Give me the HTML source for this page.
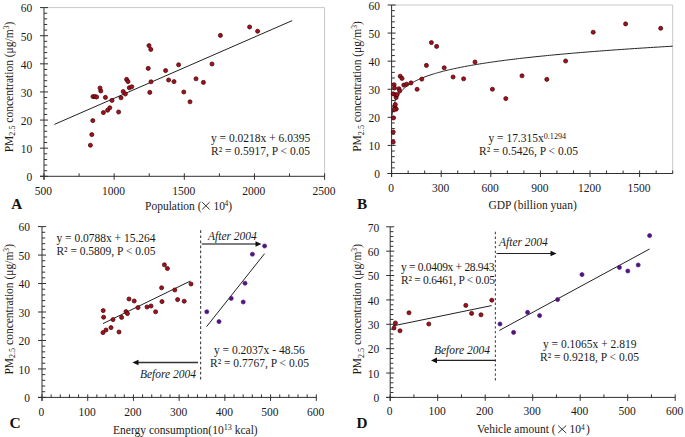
<!DOCTYPE html><html><head><meta charset="utf-8"><style>html,body{margin:0;padding:0;background:#fff;}svg{display:block;font-family:"Liberation Serif",serif;}</style></head><body>
<svg width="685" height="437" viewBox="0 0 685 437">
<rect width="685" height="437" fill="#fff"/>
<line x1="44.00" y1="7.60" x2="324.60" y2="7.60" stroke="#c8c8c8" stroke-width="1" />
<line x1="324.60" y1="7.60" x2="324.60" y2="176.30" stroke="#c8c8c8" stroke-width="1" />
<line x1="44.00" y1="7.60" x2="44.00" y2="179.80" stroke="#303030" stroke-width="1" />
<line x1="40.00" y1="176.30" x2="324.60" y2="176.30" stroke="#303030" stroke-width="1" />
<line x1="40.00" y1="176.30" x2="48.00" y2="176.30" stroke="#303030" stroke-width="1" />
<text transform="translate(32.20,181.10) scale(0.958,1)" text-anchor="end" font-size="12" font-weight="normal" font-style="normal" fill="#1a1a1a" >0</text>
<line x1="44.00" y1="170.68" x2="47.20" y2="170.68" stroke="#303030" stroke-width="1" />
<line x1="44.00" y1="165.05" x2="47.20" y2="165.05" stroke="#303030" stroke-width="1" />
<line x1="44.00" y1="159.43" x2="47.20" y2="159.43" stroke="#303030" stroke-width="1" />
<line x1="44.00" y1="153.81" x2="47.20" y2="153.81" stroke="#303030" stroke-width="1" />
<line x1="40.00" y1="148.18" x2="48.00" y2="148.18" stroke="#303030" stroke-width="1" />
<text transform="translate(32.20,152.98) scale(0.958,1)" text-anchor="end" font-size="12" font-weight="normal" font-style="normal" fill="#1a1a1a" >10</text>
<line x1="44.00" y1="142.56" x2="47.20" y2="142.56" stroke="#303030" stroke-width="1" />
<line x1="44.00" y1="136.94" x2="47.20" y2="136.94" stroke="#303030" stroke-width="1" />
<line x1="44.00" y1="131.31" x2="47.20" y2="131.31" stroke="#303030" stroke-width="1" />
<line x1="44.00" y1="125.69" x2="47.20" y2="125.69" stroke="#303030" stroke-width="1" />
<line x1="40.00" y1="120.07" x2="48.00" y2="120.07" stroke="#303030" stroke-width="1" />
<text transform="translate(32.20,124.87) scale(0.958,1)" text-anchor="end" font-size="12" font-weight="normal" font-style="normal" fill="#1a1a1a" >20</text>
<line x1="44.00" y1="114.44" x2="47.20" y2="114.44" stroke="#303030" stroke-width="1" />
<line x1="44.00" y1="108.82" x2="47.20" y2="108.82" stroke="#303030" stroke-width="1" />
<line x1="44.00" y1="103.20" x2="47.20" y2="103.20" stroke="#303030" stroke-width="1" />
<line x1="44.00" y1="97.57" x2="47.20" y2="97.57" stroke="#303030" stroke-width="1" />
<line x1="40.00" y1="91.95" x2="48.00" y2="91.95" stroke="#303030" stroke-width="1" />
<text transform="translate(32.20,96.75) scale(0.958,1)" text-anchor="end" font-size="12" font-weight="normal" font-style="normal" fill="#1a1a1a" >30</text>
<line x1="44.00" y1="86.33" x2="47.20" y2="86.33" stroke="#303030" stroke-width="1" />
<line x1="44.00" y1="80.70" x2="47.20" y2="80.70" stroke="#303030" stroke-width="1" />
<line x1="44.00" y1="75.08" x2="47.20" y2="75.08" stroke="#303030" stroke-width="1" />
<line x1="44.00" y1="69.46" x2="47.20" y2="69.46" stroke="#303030" stroke-width="1" />
<line x1="40.00" y1="63.83" x2="48.00" y2="63.83" stroke="#303030" stroke-width="1" />
<text transform="translate(32.20,68.63) scale(0.958,1)" text-anchor="end" font-size="12" font-weight="normal" font-style="normal" fill="#1a1a1a" >40</text>
<line x1="44.00" y1="58.21" x2="47.20" y2="58.21" stroke="#303030" stroke-width="1" />
<line x1="44.00" y1="52.59" x2="47.20" y2="52.59" stroke="#303030" stroke-width="1" />
<line x1="44.00" y1="46.96" x2="47.20" y2="46.96" stroke="#303030" stroke-width="1" />
<line x1="44.00" y1="41.34" x2="47.20" y2="41.34" stroke="#303030" stroke-width="1" />
<line x1="40.00" y1="35.72" x2="48.00" y2="35.72" stroke="#303030" stroke-width="1" />
<text transform="translate(32.20,40.52) scale(0.958,1)" text-anchor="end" font-size="12" font-weight="normal" font-style="normal" fill="#1a1a1a" >50</text>
<line x1="44.00" y1="30.09" x2="47.20" y2="30.09" stroke="#303030" stroke-width="1" />
<line x1="44.00" y1="24.47" x2="47.20" y2="24.47" stroke="#303030" stroke-width="1" />
<line x1="44.00" y1="18.85" x2="47.20" y2="18.85" stroke="#303030" stroke-width="1" />
<line x1="44.00" y1="13.22" x2="47.20" y2="13.22" stroke="#303030" stroke-width="1" />
<line x1="40.00" y1="7.60" x2="48.00" y2="7.60" stroke="#303030" stroke-width="1" />
<text transform="translate(32.20,12.40) scale(0.958,1)" text-anchor="end" font-size="12" font-weight="normal" font-style="normal" fill="#1a1a1a" >60</text>
<line x1="44.00" y1="173.30" x2="44.00" y2="179.80" stroke="#303030" stroke-width="1" />
<text transform="translate(43.40,194.90) scale(0.958,1)" text-anchor="middle" font-size="12" font-weight="normal" font-style="normal" fill="#1a1a1a" >500</text>
<line x1="79.08" y1="176.30" x2="79.08" y2="173.30" stroke="#303030" stroke-width="1" />
<line x1="114.15" y1="173.30" x2="114.15" y2="179.80" stroke="#303030" stroke-width="1" />
<text transform="translate(113.55,194.90) scale(0.958,1)" text-anchor="middle" font-size="12" font-weight="normal" font-style="normal" fill="#1a1a1a" >1000</text>
<line x1="149.23" y1="176.30" x2="149.23" y2="173.30" stroke="#303030" stroke-width="1" />
<line x1="184.30" y1="173.30" x2="184.30" y2="179.80" stroke="#303030" stroke-width="1" />
<text transform="translate(183.70,194.90) scale(0.958,1)" text-anchor="middle" font-size="12" font-weight="normal" font-style="normal" fill="#1a1a1a" >1500</text>
<line x1="219.38" y1="176.30" x2="219.38" y2="173.30" stroke="#303030" stroke-width="1" />
<line x1="254.45" y1="173.30" x2="254.45" y2="179.80" stroke="#303030" stroke-width="1" />
<text transform="translate(253.85,194.90) scale(0.958,1)" text-anchor="middle" font-size="12" font-weight="normal" font-style="normal" fill="#1a1a1a" >2000</text>
<line x1="289.52" y1="176.30" x2="289.52" y2="173.30" stroke="#303030" stroke-width="1" />
<line x1="324.60" y1="173.30" x2="324.60" y2="179.80" stroke="#303030" stroke-width="1" />
<text transform="translate(324.00,194.90) scale(0.958,1)" text-anchor="middle" font-size="12" font-weight="normal" font-style="normal" fill="#1a1a1a" >2500</text>
<text transform="translate(11.30,209.20) scale(1.0,1)" text-anchor="start" font-size="15.2" font-weight="bold" font-style="normal" fill="#111" >A</text>
<text transform="translate(145.00,210.20) scale(0.958,1)" text-anchor="start" font-size="12" font-weight="normal" font-style="normal" fill="#1a1a1a" >Population (</text>
<path d="M202.2,202.2 L209.6,209.4 M209.6,202.2 L202.2,209.4" stroke="#1a1a1a" stroke-width="0.9" fill="none"/>
<text transform="translate(213.60,210.20) scale(0.958,1)" text-anchor="start" font-size="12" font-weight="normal" font-style="normal" fill="#1a1a1a" >10</text>
<text transform="translate(224.40,206.20) scale(1.0,1)" text-anchor="start" font-size="7.5" font-weight="normal" font-style="normal" fill="#1a1a1a" >4</text>
<text transform="translate(228.20,210.20) scale(0.958,1)" text-anchor="start" font-size="12" font-weight="normal" font-style="normal" fill="#1a1a1a" >)</text>
<text transform="translate(12.80,87.00) rotate(-90) scale(0.958,1)" text-anchor="middle" font-size="12" fill="#1a1a1a">PM<tspan font-size="8.5" dy="2.5">2.5</tspan><tspan dy="-2.5"> concentration (μg/m</tspan><tspan font-size="8" dy="-4">3</tspan><tspan dy="4">)</tspan></text>
<line x1="54.40" y1="124.40" x2="292.20" y2="20.60" stroke="#222" stroke-width="1" />
<circle cx="90.40" cy="145.20" r="2.05" fill="#a50f1c" stroke="#3a0404" stroke-width="0.7"/>
<circle cx="91.80" cy="134.60" r="2.05" fill="#a50f1c" stroke="#3a0404" stroke-width="0.7"/>
<circle cx="92.80" cy="120.60" r="2.05" fill="#a50f1c" stroke="#3a0404" stroke-width="0.7"/>
<circle cx="103.40" cy="112.60" r="2.05" fill="#a50f1c" stroke="#3a0404" stroke-width="0.7"/>
<circle cx="107.60" cy="110.20" r="2.05" fill="#a50f1c" stroke="#3a0404" stroke-width="0.7"/>
<circle cx="109.80" cy="107.80" r="2.05" fill="#a50f1c" stroke="#3a0404" stroke-width="0.7"/>
<circle cx="118.60" cy="112.00" r="2.05" fill="#a50f1c" stroke="#3a0404" stroke-width="0.7"/>
<circle cx="112.00" cy="100.40" r="2.05" fill="#a50f1c" stroke="#3a0404" stroke-width="0.7"/>
<circle cx="105.40" cy="97.40" r="2.05" fill="#a50f1c" stroke="#3a0404" stroke-width="0.7"/>
<circle cx="93.00" cy="96.60" r="2.05" fill="#a50f1c" stroke="#3a0404" stroke-width="0.7"/>
<circle cx="95.00" cy="96.60" r="2.05" fill="#a50f1c" stroke="#3a0404" stroke-width="0.7"/>
<circle cx="96.60" cy="97.00" r="2.05" fill="#a50f1c" stroke="#3a0404" stroke-width="0.7"/>
<circle cx="121.00" cy="97.80" r="2.05" fill="#a50f1c" stroke="#3a0404" stroke-width="0.7"/>
<circle cx="123.20" cy="91.60" r="2.05" fill="#a50f1c" stroke="#3a0404" stroke-width="0.7"/>
<circle cx="125.40" cy="94.00" r="2.05" fill="#a50f1c" stroke="#3a0404" stroke-width="0.7"/>
<circle cx="149.80" cy="92.40" r="2.05" fill="#a50f1c" stroke="#3a0404" stroke-width="0.7"/>
<circle cx="183.80" cy="92.00" r="2.05" fill="#a50f1c" stroke="#3a0404" stroke-width="0.7"/>
<circle cx="190.00" cy="101.80" r="2.05" fill="#a50f1c" stroke="#3a0404" stroke-width="0.7"/>
<circle cx="100.80" cy="91.00" r="2.05" fill="#a50f1c" stroke="#3a0404" stroke-width="0.7"/>
<circle cx="100.00" cy="88.00" r="2.05" fill="#a50f1c" stroke="#3a0404" stroke-width="0.7"/>
<circle cx="129.30" cy="87.70" r="2.05" fill="#a50f1c" stroke="#3a0404" stroke-width="0.7"/>
<circle cx="131.80" cy="86.80" r="2.05" fill="#a50f1c" stroke="#3a0404" stroke-width="0.7"/>
<circle cx="149.00" cy="45.60" r="2.05" fill="#a50f1c" stroke="#3a0404" stroke-width="0.7"/>
<circle cx="150.80" cy="49.40" r="2.05" fill="#a50f1c" stroke="#3a0404" stroke-width="0.7"/>
<circle cx="148.20" cy="68.40" r="2.05" fill="#a50f1c" stroke="#3a0404" stroke-width="0.7"/>
<circle cx="165.60" cy="70.60" r="2.05" fill="#a50f1c" stroke="#3a0404" stroke-width="0.7"/>
<circle cx="178.60" cy="64.80" r="2.05" fill="#a50f1c" stroke="#3a0404" stroke-width="0.7"/>
<circle cx="212.00" cy="64.00" r="2.05" fill="#a50f1c" stroke="#3a0404" stroke-width="0.7"/>
<circle cx="151.00" cy="81.80" r="2.05" fill="#a50f1c" stroke="#3a0404" stroke-width="0.7"/>
<circle cx="168.60" cy="80.00" r="2.05" fill="#a50f1c" stroke="#3a0404" stroke-width="0.7"/>
<circle cx="174.00" cy="81.60" r="2.05" fill="#a50f1c" stroke="#3a0404" stroke-width="0.7"/>
<circle cx="196.00" cy="78.80" r="2.05" fill="#a50f1c" stroke="#3a0404" stroke-width="0.7"/>
<circle cx="203.40" cy="82.40" r="2.05" fill="#a50f1c" stroke="#3a0404" stroke-width="0.7"/>
<circle cx="126.60" cy="79.40" r="2.05" fill="#a50f1c" stroke="#3a0404" stroke-width="0.7"/>
<circle cx="128.00" cy="81.60" r="2.05" fill="#a50f1c" stroke="#3a0404" stroke-width="0.7"/>
<circle cx="220.40" cy="35.40" r="2.05" fill="#a50f1c" stroke="#3a0404" stroke-width="0.7"/>
<circle cx="249.60" cy="27.00" r="2.05" fill="#a50f1c" stroke="#3a0404" stroke-width="0.7"/>
<circle cx="257.60" cy="31.20" r="2.05" fill="#a50f1c" stroke="#3a0404" stroke-width="0.7"/>
<text transform="translate(211.00,141.90) scale(0.958,1)" text-anchor="start" font-size="12" font-weight="normal" font-style="normal" fill="#1a1a1a" >y = 0.0218x + 6.0395</text>
<text transform="translate(211.00,155.10) scale(0.958,1)" text-anchor="start" font-size="12" font-weight="normal" font-style="normal" fill="#1a1a1a" >R² = 0.5917, P &lt; 0.05</text>
<line x1="391.60" y1="5.00" x2="672.70" y2="5.00" stroke="#c8c8c8" stroke-width="1" />
<line x1="672.70" y1="5.00" x2="672.70" y2="173.50" stroke="#c8c8c8" stroke-width="1" />
<line x1="391.60" y1="5.00" x2="391.60" y2="177.00" stroke="#303030" stroke-width="1" />
<line x1="387.60" y1="173.50" x2="672.70" y2="173.50" stroke="#303030" stroke-width="1" />
<line x1="387.60" y1="173.50" x2="395.60" y2="173.50" stroke="#303030" stroke-width="1" />
<text transform="translate(380.00,178.30) scale(0.958,1)" text-anchor="end" font-size="12" font-weight="normal" font-style="normal" fill="#1a1a1a" >0</text>
<line x1="391.60" y1="167.88" x2="394.80" y2="167.88" stroke="#303030" stroke-width="1" />
<line x1="391.60" y1="162.27" x2="394.80" y2="162.27" stroke="#303030" stroke-width="1" />
<line x1="391.60" y1="156.65" x2="394.80" y2="156.65" stroke="#303030" stroke-width="1" />
<line x1="391.60" y1="151.03" x2="394.80" y2="151.03" stroke="#303030" stroke-width="1" />
<line x1="387.60" y1="145.42" x2="395.60" y2="145.42" stroke="#303030" stroke-width="1" />
<text transform="translate(380.00,150.22) scale(0.958,1)" text-anchor="end" font-size="12" font-weight="normal" font-style="normal" fill="#1a1a1a" >10</text>
<line x1="391.60" y1="139.80" x2="394.80" y2="139.80" stroke="#303030" stroke-width="1" />
<line x1="391.60" y1="134.18" x2="394.80" y2="134.18" stroke="#303030" stroke-width="1" />
<line x1="391.60" y1="128.57" x2="394.80" y2="128.57" stroke="#303030" stroke-width="1" />
<line x1="391.60" y1="122.95" x2="394.80" y2="122.95" stroke="#303030" stroke-width="1" />
<line x1="387.60" y1="117.33" x2="395.60" y2="117.33" stroke="#303030" stroke-width="1" />
<text transform="translate(380.00,122.13) scale(0.958,1)" text-anchor="end" font-size="12" font-weight="normal" font-style="normal" fill="#1a1a1a" >20</text>
<line x1="391.60" y1="111.72" x2="394.80" y2="111.72" stroke="#303030" stroke-width="1" />
<line x1="391.60" y1="106.10" x2="394.80" y2="106.10" stroke="#303030" stroke-width="1" />
<line x1="391.60" y1="100.48" x2="394.80" y2="100.48" stroke="#303030" stroke-width="1" />
<line x1="391.60" y1="94.87" x2="394.80" y2="94.87" stroke="#303030" stroke-width="1" />
<line x1="387.60" y1="89.25" x2="395.60" y2="89.25" stroke="#303030" stroke-width="1" />
<text transform="translate(380.00,94.05) scale(0.958,1)" text-anchor="end" font-size="12" font-weight="normal" font-style="normal" fill="#1a1a1a" >30</text>
<line x1="391.60" y1="83.63" x2="394.80" y2="83.63" stroke="#303030" stroke-width="1" />
<line x1="391.60" y1="78.02" x2="394.80" y2="78.02" stroke="#303030" stroke-width="1" />
<line x1="391.60" y1="72.40" x2="394.80" y2="72.40" stroke="#303030" stroke-width="1" />
<line x1="391.60" y1="66.78" x2="394.80" y2="66.78" stroke="#303030" stroke-width="1" />
<line x1="387.60" y1="61.17" x2="395.60" y2="61.17" stroke="#303030" stroke-width="1" />
<text transform="translate(380.00,65.97) scale(0.958,1)" text-anchor="end" font-size="12" font-weight="normal" font-style="normal" fill="#1a1a1a" >40</text>
<line x1="391.60" y1="55.55" x2="394.80" y2="55.55" stroke="#303030" stroke-width="1" />
<line x1="391.60" y1="49.93" x2="394.80" y2="49.93" stroke="#303030" stroke-width="1" />
<line x1="391.60" y1="44.32" x2="394.80" y2="44.32" stroke="#303030" stroke-width="1" />
<line x1="391.60" y1="38.70" x2="394.80" y2="38.70" stroke="#303030" stroke-width="1" />
<line x1="387.60" y1="33.08" x2="395.60" y2="33.08" stroke="#303030" stroke-width="1" />
<text transform="translate(380.00,37.88) scale(0.958,1)" text-anchor="end" font-size="12" font-weight="normal" font-style="normal" fill="#1a1a1a" >50</text>
<line x1="391.60" y1="27.47" x2="394.80" y2="27.47" stroke="#303030" stroke-width="1" />
<line x1="391.60" y1="21.85" x2="394.80" y2="21.85" stroke="#303030" stroke-width="1" />
<line x1="391.60" y1="16.23" x2="394.80" y2="16.23" stroke="#303030" stroke-width="1" />
<line x1="391.60" y1="10.62" x2="394.80" y2="10.62" stroke="#303030" stroke-width="1" />
<line x1="387.60" y1="5.00" x2="395.60" y2="5.00" stroke="#303030" stroke-width="1" />
<text transform="translate(380.00,9.80) scale(0.958,1)" text-anchor="end" font-size="12" font-weight="normal" font-style="normal" fill="#1a1a1a" >60</text>
<line x1="391.60" y1="170.50" x2="391.60" y2="177.00" stroke="#303030" stroke-width="1" />
<text transform="translate(391.00,192.20) scale(0.958,1)" text-anchor="middle" font-size="12" font-weight="normal" font-style="normal" fill="#1a1a1a" >0</text>
<line x1="408.14" y1="173.50" x2="408.14" y2="170.50" stroke="#303030" stroke-width="1" />
<line x1="424.67" y1="173.50" x2="424.67" y2="170.50" stroke="#303030" stroke-width="1" />
<line x1="441.21" y1="170.50" x2="441.21" y2="177.00" stroke="#303030" stroke-width="1" />
<text transform="translate(440.61,192.20) scale(0.958,1)" text-anchor="middle" font-size="12" font-weight="normal" font-style="normal" fill="#1a1a1a" >300</text>
<line x1="457.74" y1="173.50" x2="457.74" y2="170.50" stroke="#303030" stroke-width="1" />
<line x1="474.28" y1="173.50" x2="474.28" y2="170.50" stroke="#303030" stroke-width="1" />
<line x1="490.81" y1="170.50" x2="490.81" y2="177.00" stroke="#303030" stroke-width="1" />
<text transform="translate(490.21,192.20) scale(0.958,1)" text-anchor="middle" font-size="12" font-weight="normal" font-style="normal" fill="#1a1a1a" >600</text>
<line x1="507.35" y1="173.50" x2="507.35" y2="170.50" stroke="#303030" stroke-width="1" />
<line x1="523.88" y1="173.50" x2="523.88" y2="170.50" stroke="#303030" stroke-width="1" />
<line x1="540.42" y1="170.50" x2="540.42" y2="177.00" stroke="#303030" stroke-width="1" />
<text transform="translate(539.82,192.20) scale(0.958,1)" text-anchor="middle" font-size="12" font-weight="normal" font-style="normal" fill="#1a1a1a" >900</text>
<line x1="556.95" y1="173.50" x2="556.95" y2="170.50" stroke="#303030" stroke-width="1" />
<line x1="573.49" y1="173.50" x2="573.49" y2="170.50" stroke="#303030" stroke-width="1" />
<line x1="590.02" y1="170.50" x2="590.02" y2="177.00" stroke="#303030" stroke-width="1" />
<text transform="translate(589.42,192.20) scale(0.958,1)" text-anchor="middle" font-size="12" font-weight="normal" font-style="normal" fill="#1a1a1a" >1200</text>
<line x1="606.56" y1="173.50" x2="606.56" y2="170.50" stroke="#303030" stroke-width="1" />
<line x1="623.09" y1="173.50" x2="623.09" y2="170.50" stroke="#303030" stroke-width="1" />
<line x1="639.63" y1="170.50" x2="639.63" y2="177.00" stroke="#303030" stroke-width="1" />
<text transform="translate(639.03,192.20) scale(0.958,1)" text-anchor="middle" font-size="12" font-weight="normal" font-style="normal" fill="#1a1a1a" >1500</text>
<line x1="656.16" y1="173.50" x2="656.16" y2="170.50" stroke="#303030" stroke-width="1" />
<line x1="672.70" y1="173.50" x2="672.70" y2="170.50" stroke="#303030" stroke-width="1" />
<text transform="translate(357.00,209.30) scale(1.0,1)" text-anchor="start" font-size="15.2" font-weight="bold" font-style="normal" fill="#111" >B</text>
<text transform="translate(488.40,208.50) scale(0.958,1)" text-anchor="start" font-size="12" font-weight="normal" font-style="normal" fill="#1a1a1a" >GDP (billion yuan)</text>
<text transform="translate(361.30,86.50) rotate(-90) scale(0.958,1)" text-anchor="middle" font-size="12" fill="#1a1a1a">PM<tspan font-size="8.5" dy="2.5">2.5</tspan><tspan dy="-2.5"> concentration (μg/m</tspan><tspan font-size="8" dy="-4">3</tspan><tspan dy="4">)</tspan></text>
<polyline points="392.26,115.32 392.27,115.24 392.29,115.00 392.33,114.62 392.37,114.12 392.44,113.51 392.52,112.81 392.61,112.06 392.71,111.25 392.84,110.42 392.97,109.57 393.12,108.71 393.28,107.85 393.46,107.00 393.65,106.15 393.85,105.31 394.07,104.49 394.31,103.68 394.56,102.88 394.82,102.10 395.09,101.34 395.38,100.59 395.69,99.85 396.01,99.14 396.34,98.43 396.69,97.74 397.05,97.07 397.42,96.40 397.81,95.76 398.22,95.12 398.63,94.50 399.07,93.89 399.51,93.29 399.97,92.70 400.45,92.12 400.94,91.55 401.44,90.99 401.96,90.44 402.49,89.90 403.03,89.37 403.59,88.85 404.17,88.34 404.75,87.83 405.36,87.34 405.97,86.85 406.60,86.36 407.25,85.89 407.90,85.42 408.58,84.96 409.26,84.50 409.97,84.05 410.68,83.61 411.41,83.17 412.15,82.74 412.91,82.31 413.68,81.89 414.47,81.48 415.27,81.07 416.08,80.66 416.91,80.26 417.76,79.86 418.61,79.47 419.48,79.09 420.37,78.70 421.27,78.33 422.18,77.95 423.11,77.58 424.05,77.21 425.01,76.85 425.98,76.49 426.96,76.14 427.96,75.79 428.97,75.44 430.00,75.09 431.04,74.75 432.10,74.42 433.16,74.08 434.25,73.75 435.35,73.42 436.46,73.09 437.58,72.77 438.72,72.45 439.88,72.14 441.05,71.82 442.23,71.51 443.43,71.20 444.64,70.89 445.86,70.59 447.10,70.29 448.35,69.99 449.62,69.70 450.90,69.40 452.20,69.11 453.51,68.82 454.83,68.53 456.17,68.25 457.53,67.97 458.89,67.68 460.27,67.41 461.67,67.13 463.08,66.86 464.50,66.58 465.94,66.31 467.39,66.04 468.86,65.78 470.34,65.51 471.83,65.25 473.34,64.99 474.86,64.73 476.40,64.47 477.95,64.22 479.51,63.96 481.09,63.71 482.69,63.46 484.29,63.21 485.92,62.96 487.55,62.71 489.20,62.47 490.87,62.23 492.54,61.98 494.24,61.74 495.94,61.51 497.66,61.27 499.40,61.03 501.15,60.80 502.91,60.56 504.69,60.33 506.48,60.10 508.29,59.87 510.11,59.65 511.94,59.42 513.79,59.19 515.65,58.97 517.53,58.75 519.42,58.53 521.32,58.31 523.24,58.09 525.18,57.87 527.12,57.65 529.09,57.44 531.06,57.22 533.05,57.01 535.05,56.80 537.07,56.58 539.11,56.37 541.15,56.17 543.21,55.96 545.29,55.75 547.38,55.54 549.48,55.34 551.60,55.14 553.73,54.93 555.87,54.73 558.03,54.53 560.21,54.33 562.40,54.13 564.60,53.93 566.82,53.74 569.05,53.54 571.29,53.34 573.55,53.15 575.82,52.96 578.11,52.76 580.41,52.57 582.73,52.38 585.06,52.19 587.40,52.00 589.76,51.81 592.13,51.63 594.52,51.44 596.92,51.25 599.33,51.07 601.76,50.88 604.21,50.70 606.66,50.52 609.14,50.34 611.62,50.15 614.12,49.97 616.63,49.79 619.16,49.62 621.71,49.44 624.26,49.26 626.83,49.08 629.42,48.91 632.02,48.73 634.63,48.56 637.26,48.38 639.90,48.21 642.55,48.04 645.22,47.86 647.91,47.69 650.61,47.52 653.32,47.35 656.04,47.18 658.78,47.02 661.54,46.85 664.31,46.68 667.09,46.51 669.89,46.35 672.70,46.18" fill="none" stroke="#222" stroke-width="1"/>
<circle cx="393.50" cy="117.90" r="2.05" fill="#a50f1c" stroke="#3a0404" stroke-width="0.7"/>
<circle cx="393.20" cy="132.00" r="2.05" fill="#a50f1c" stroke="#3a0404" stroke-width="0.7"/>
<circle cx="393.20" cy="142.10" r="2.05" fill="#a50f1c" stroke="#3a0404" stroke-width="0.7"/>
<circle cx="394.80" cy="106.50" r="2.05" fill="#a50f1c" stroke="#3a0404" stroke-width="0.7"/>
<circle cx="396.30" cy="109.10" r="2.05" fill="#a50f1c" stroke="#3a0404" stroke-width="0.7"/>
<circle cx="394.30" cy="109.60" r="2.05" fill="#a50f1c" stroke="#3a0404" stroke-width="0.7"/>
<circle cx="395.30" cy="104.50" r="2.05" fill="#a50f1c" stroke="#3a0404" stroke-width="0.7"/>
<circle cx="396.10" cy="97.60" r="2.05" fill="#a50f1c" stroke="#3a0404" stroke-width="0.7"/>
<circle cx="393.20" cy="93.90" r="2.05" fill="#a50f1c" stroke="#3a0404" stroke-width="0.7"/>
<circle cx="395.80" cy="94.70" r="2.05" fill="#a50f1c" stroke="#3a0404" stroke-width="0.7"/>
<circle cx="397.10" cy="94.70" r="2.05" fill="#a50f1c" stroke="#3a0404" stroke-width="0.7"/>
<circle cx="394.10" cy="84.70" r="2.05" fill="#a50f1c" stroke="#3a0404" stroke-width="0.7"/>
<circle cx="394.50" cy="88.00" r="2.05" fill="#a50f1c" stroke="#3a0404" stroke-width="0.7"/>
<circle cx="398.90" cy="88.70" r="2.05" fill="#a50f1c" stroke="#3a0404" stroke-width="0.7"/>
<circle cx="399.70" cy="90.90" r="2.05" fill="#a50f1c" stroke="#3a0404" stroke-width="0.7"/>
<circle cx="403.80" cy="85.10" r="2.05" fill="#a50f1c" stroke="#3a0404" stroke-width="0.7"/>
<circle cx="406.60" cy="84.20" r="2.05" fill="#a50f1c" stroke="#3a0404" stroke-width="0.7"/>
<circle cx="411.00" cy="82.90" r="2.05" fill="#a50f1c" stroke="#3a0404" stroke-width="0.7"/>
<circle cx="421.80" cy="79.10" r="2.05" fill="#a50f1c" stroke="#3a0404" stroke-width="0.7"/>
<circle cx="417.10" cy="89.30" r="2.05" fill="#a50f1c" stroke="#3a0404" stroke-width="0.7"/>
<circle cx="400.20" cy="76.20" r="2.05" fill="#a50f1c" stroke="#3a0404" stroke-width="0.7"/>
<circle cx="402.00" cy="78.40" r="2.05" fill="#a50f1c" stroke="#3a0404" stroke-width="0.7"/>
<circle cx="453.10" cy="77.00" r="2.05" fill="#a50f1c" stroke="#3a0404" stroke-width="0.7"/>
<circle cx="463.60" cy="78.80" r="2.05" fill="#a50f1c" stroke="#3a0404" stroke-width="0.7"/>
<circle cx="431.40" cy="42.60" r="2.05" fill="#a50f1c" stroke="#3a0404" stroke-width="0.7"/>
<circle cx="436.60" cy="46.40" r="2.05" fill="#a50f1c" stroke="#3a0404" stroke-width="0.7"/>
<circle cx="426.40" cy="65.40" r="2.05" fill="#a50f1c" stroke="#3a0404" stroke-width="0.7"/>
<circle cx="444.20" cy="67.80" r="2.05" fill="#a50f1c" stroke="#3a0404" stroke-width="0.7"/>
<circle cx="475.00" cy="62.00" r="2.05" fill="#a50f1c" stroke="#3a0404" stroke-width="0.7"/>
<circle cx="492.40" cy="89.20" r="2.05" fill="#a50f1c" stroke="#3a0404" stroke-width="0.7"/>
<circle cx="505.80" cy="98.60" r="2.05" fill="#a50f1c" stroke="#3a0404" stroke-width="0.7"/>
<circle cx="522.00" cy="75.80" r="2.05" fill="#a50f1c" stroke="#3a0404" stroke-width="0.7"/>
<circle cx="546.80" cy="79.40" r="2.05" fill="#a50f1c" stroke="#3a0404" stroke-width="0.7"/>
<circle cx="565.60" cy="61.00" r="2.05" fill="#a50f1c" stroke="#3a0404" stroke-width="0.7"/>
<circle cx="593.20" cy="32.20" r="2.05" fill="#a50f1c" stroke="#3a0404" stroke-width="0.7"/>
<circle cx="625.60" cy="23.90" r="2.05" fill="#a50f1c" stroke="#3a0404" stroke-width="0.7"/>
<circle cx="660.70" cy="28.30" r="2.05" fill="#a50f1c" stroke="#3a0404" stroke-width="0.7"/>
<text transform="translate(488.4,141.9) scale(0.958,1)" font-size="12" fill="#1a1a1a">y = 17.315x<tspan font-size="8.5" dy="-2.7">0.1294</tspan></text>
<text transform="translate(479.00,155.10) scale(0.958,1)" text-anchor="start" font-size="12" font-weight="normal" font-style="normal" fill="#1a1a1a" >R² = 0.5426, P &lt; 0.05</text>
<line x1="42.00" y1="226.60" x2="42.00" y2="400.90" stroke="#303030" stroke-width="1" />
<line x1="38.00" y1="397.40" x2="316.30" y2="397.40" stroke="#303030" stroke-width="1" />
<line x1="38.00" y1="397.40" x2="46.00" y2="397.40" stroke="#303030" stroke-width="1" />
<text transform="translate(30.00,402.20) scale(0.958,1)" text-anchor="end" font-size="12" font-weight="normal" font-style="normal" fill="#1a1a1a" >0</text>
<line x1="42.00" y1="391.71" x2="45.20" y2="391.71" stroke="#303030" stroke-width="1" />
<line x1="42.00" y1="386.01" x2="45.20" y2="386.01" stroke="#303030" stroke-width="1" />
<line x1="42.00" y1="380.32" x2="45.20" y2="380.32" stroke="#303030" stroke-width="1" />
<line x1="42.00" y1="374.63" x2="45.20" y2="374.63" stroke="#303030" stroke-width="1" />
<line x1="38.00" y1="368.93" x2="46.00" y2="368.93" stroke="#303030" stroke-width="1" />
<text transform="translate(30.00,373.73) scale(0.958,1)" text-anchor="end" font-size="12" font-weight="normal" font-style="normal" fill="#1a1a1a" >10</text>
<line x1="42.00" y1="363.24" x2="45.20" y2="363.24" stroke="#303030" stroke-width="1" />
<line x1="42.00" y1="357.55" x2="45.20" y2="357.55" stroke="#303030" stroke-width="1" />
<line x1="42.00" y1="351.85" x2="45.20" y2="351.85" stroke="#303030" stroke-width="1" />
<line x1="42.00" y1="346.16" x2="45.20" y2="346.16" stroke="#303030" stroke-width="1" />
<line x1="38.00" y1="340.47" x2="46.00" y2="340.47" stroke="#303030" stroke-width="1" />
<text transform="translate(30.00,345.27) scale(0.958,1)" text-anchor="end" font-size="12" font-weight="normal" font-style="normal" fill="#1a1a1a" >20</text>
<line x1="42.00" y1="334.77" x2="45.20" y2="334.77" stroke="#303030" stroke-width="1" />
<line x1="42.00" y1="329.08" x2="45.20" y2="329.08" stroke="#303030" stroke-width="1" />
<line x1="42.00" y1="323.39" x2="45.20" y2="323.39" stroke="#303030" stroke-width="1" />
<line x1="42.00" y1="317.69" x2="45.20" y2="317.69" stroke="#303030" stroke-width="1" />
<line x1="38.00" y1="312.00" x2="46.00" y2="312.00" stroke="#303030" stroke-width="1" />
<text transform="translate(30.00,316.80) scale(0.958,1)" text-anchor="end" font-size="12" font-weight="normal" font-style="normal" fill="#1a1a1a" >30</text>
<line x1="42.00" y1="306.31" x2="45.20" y2="306.31" stroke="#303030" stroke-width="1" />
<line x1="42.00" y1="300.61" x2="45.20" y2="300.61" stroke="#303030" stroke-width="1" />
<line x1="42.00" y1="294.92" x2="45.20" y2="294.92" stroke="#303030" stroke-width="1" />
<line x1="42.00" y1="289.23" x2="45.20" y2="289.23" stroke="#303030" stroke-width="1" />
<line x1="38.00" y1="283.53" x2="46.00" y2="283.53" stroke="#303030" stroke-width="1" />
<text transform="translate(30.00,288.33) scale(0.958,1)" text-anchor="end" font-size="12" font-weight="normal" font-style="normal" fill="#1a1a1a" >40</text>
<line x1="42.00" y1="277.84" x2="45.20" y2="277.84" stroke="#303030" stroke-width="1" />
<line x1="42.00" y1="272.15" x2="45.20" y2="272.15" stroke="#303030" stroke-width="1" />
<line x1="42.00" y1="266.45" x2="45.20" y2="266.45" stroke="#303030" stroke-width="1" />
<line x1="42.00" y1="260.76" x2="45.20" y2="260.76" stroke="#303030" stroke-width="1" />
<line x1="38.00" y1="255.07" x2="46.00" y2="255.07" stroke="#303030" stroke-width="1" />
<text transform="translate(30.00,259.87) scale(0.958,1)" text-anchor="end" font-size="12" font-weight="normal" font-style="normal" fill="#1a1a1a" >50</text>
<line x1="42.00" y1="249.37" x2="45.20" y2="249.37" stroke="#303030" stroke-width="1" />
<line x1="42.00" y1="243.68" x2="45.20" y2="243.68" stroke="#303030" stroke-width="1" />
<line x1="42.00" y1="237.99" x2="45.20" y2="237.99" stroke="#303030" stroke-width="1" />
<line x1="42.00" y1="232.29" x2="45.20" y2="232.29" stroke="#303030" stroke-width="1" />
<line x1="38.00" y1="226.60" x2="46.00" y2="226.60" stroke="#303030" stroke-width="1" />
<text transform="translate(30.00,231.40) scale(0.958,1)" text-anchor="end" font-size="12" font-weight="normal" font-style="normal" fill="#1a1a1a" >60</text>
<line x1="42.00" y1="394.40" x2="42.00" y2="400.90" stroke="#303030" stroke-width="1" />
<text transform="translate(41.40,415.90) scale(0.958,1)" text-anchor="middle" font-size="12" font-weight="normal" font-style="normal" fill="#1a1a1a" >0</text>
<line x1="51.14" y1="397.40" x2="51.14" y2="394.40" stroke="#303030" stroke-width="1" />
<line x1="60.29" y1="397.40" x2="60.29" y2="394.40" stroke="#303030" stroke-width="1" />
<line x1="69.43" y1="397.40" x2="69.43" y2="394.40" stroke="#303030" stroke-width="1" />
<line x1="78.57" y1="397.40" x2="78.57" y2="394.40" stroke="#303030" stroke-width="1" />
<line x1="87.72" y1="394.40" x2="87.72" y2="400.90" stroke="#303030" stroke-width="1" />
<text transform="translate(87.12,415.90) scale(0.958,1)" text-anchor="middle" font-size="12" font-weight="normal" font-style="normal" fill="#1a1a1a" >100</text>
<line x1="96.86" y1="397.40" x2="96.86" y2="394.40" stroke="#303030" stroke-width="1" />
<line x1="106.00" y1="397.40" x2="106.00" y2="394.40" stroke="#303030" stroke-width="1" />
<line x1="115.15" y1="397.40" x2="115.15" y2="394.40" stroke="#303030" stroke-width="1" />
<line x1="124.29" y1="397.40" x2="124.29" y2="394.40" stroke="#303030" stroke-width="1" />
<line x1="133.43" y1="394.40" x2="133.43" y2="400.90" stroke="#303030" stroke-width="1" />
<text transform="translate(132.83,415.90) scale(0.958,1)" text-anchor="middle" font-size="12" font-weight="normal" font-style="normal" fill="#1a1a1a" >200</text>
<line x1="142.58" y1="397.40" x2="142.58" y2="394.40" stroke="#303030" stroke-width="1" />
<line x1="151.72" y1="397.40" x2="151.72" y2="394.40" stroke="#303030" stroke-width="1" />
<line x1="160.86" y1="397.40" x2="160.86" y2="394.40" stroke="#303030" stroke-width="1" />
<line x1="170.01" y1="397.40" x2="170.01" y2="394.40" stroke="#303030" stroke-width="1" />
<line x1="179.15" y1="394.40" x2="179.15" y2="400.90" stroke="#303030" stroke-width="1" />
<text transform="translate(178.55,415.90) scale(0.958,1)" text-anchor="middle" font-size="12" font-weight="normal" font-style="normal" fill="#1a1a1a" >300</text>
<line x1="188.29" y1="397.40" x2="188.29" y2="394.40" stroke="#303030" stroke-width="1" />
<line x1="197.44" y1="397.40" x2="197.44" y2="394.40" stroke="#303030" stroke-width="1" />
<line x1="206.58" y1="397.40" x2="206.58" y2="394.40" stroke="#303030" stroke-width="1" />
<line x1="215.72" y1="397.40" x2="215.72" y2="394.40" stroke="#303030" stroke-width="1" />
<line x1="224.87" y1="394.40" x2="224.87" y2="400.90" stroke="#303030" stroke-width="1" />
<text transform="translate(224.27,415.90) scale(0.958,1)" text-anchor="middle" font-size="12" font-weight="normal" font-style="normal" fill="#1a1a1a" >400</text>
<line x1="234.01" y1="397.40" x2="234.01" y2="394.40" stroke="#303030" stroke-width="1" />
<line x1="243.15" y1="397.40" x2="243.15" y2="394.40" stroke="#303030" stroke-width="1" />
<line x1="252.30" y1="397.40" x2="252.30" y2="394.40" stroke="#303030" stroke-width="1" />
<line x1="261.44" y1="397.40" x2="261.44" y2="394.40" stroke="#303030" stroke-width="1" />
<line x1="270.58" y1="394.40" x2="270.58" y2="400.90" stroke="#303030" stroke-width="1" />
<text transform="translate(269.98,415.90) scale(0.958,1)" text-anchor="middle" font-size="12" font-weight="normal" font-style="normal" fill="#1a1a1a" >500</text>
<line x1="279.73" y1="397.40" x2="279.73" y2="394.40" stroke="#303030" stroke-width="1" />
<line x1="288.87" y1="397.40" x2="288.87" y2="394.40" stroke="#303030" stroke-width="1" />
<line x1="298.01" y1="397.40" x2="298.01" y2="394.40" stroke="#303030" stroke-width="1" />
<line x1="307.16" y1="397.40" x2="307.16" y2="394.40" stroke="#303030" stroke-width="1" />
<line x1="316.30" y1="394.40" x2="316.30" y2="400.90" stroke="#303030" stroke-width="1" />
<text transform="translate(315.70,415.90) scale(0.958,1)" text-anchor="middle" font-size="12" font-weight="normal" font-style="normal" fill="#1a1a1a" >600</text>
<text transform="translate(9.60,427.80) scale(1.0,1)" text-anchor="start" font-size="15.5" font-weight="bold" font-style="normal" fill="#111" >C</text>
<text transform="translate(113.1,434) scale(0.958,1)" font-size="12" fill="#1a1a1a">Energy consumption(10<tspan font-size="8.5" dy="-4">13</tspan><tspan dy="4"> kcal)</tspan></text>
<text transform="translate(12.80,309.30) rotate(-90) scale(0.958,1)" text-anchor="middle" font-size="12" fill="#1a1a1a">PM<tspan font-size="8.5" dy="2.5">2.5</tspan><tspan dy="-2.5"> concentration (μg/m</tspan><tspan font-size="8" dy="-4">3</tspan><tspan dy="4">)</tspan></text>
<line x1="200.60" y1="230.00" x2="200.60" y2="381.00" stroke="#4a4a4a" stroke-width="1.2" stroke-dasharray="2.7,2.35" stroke-dashoffset="4.7"/>
<line x1="103.00" y1="323.60" x2="190.40" y2="281.00" stroke="#222" stroke-width="1" />
<line x1="206.60" y1="326.60" x2="264.60" y2="253.60" stroke="#222" stroke-width="1" />
<circle cx="164.40" cy="264.80" r="2.05" fill="#a50f1c" stroke="#3a0404" stroke-width="0.7"/>
<circle cx="167.40" cy="268.50" r="2.05" fill="#a50f1c" stroke="#3a0404" stroke-width="0.7"/>
<circle cx="161.60" cy="287.80" r="2.05" fill="#a50f1c" stroke="#3a0404" stroke-width="0.7"/>
<circle cx="174.80" cy="290.00" r="2.05" fill="#a50f1c" stroke="#3a0404" stroke-width="0.7"/>
<circle cx="129.00" cy="299.00" r="2.05" fill="#a50f1c" stroke="#3a0404" stroke-width="0.7"/>
<circle cx="134.20" cy="301.00" r="2.05" fill="#a50f1c" stroke="#3a0404" stroke-width="0.7"/>
<circle cx="162.00" cy="301.60" r="2.05" fill="#a50f1c" stroke="#3a0404" stroke-width="0.7"/>
<circle cx="151.00" cy="306.00" r="2.05" fill="#a50f1c" stroke="#3a0404" stroke-width="0.7"/>
<circle cx="177.60" cy="299.60" r="2.05" fill="#a50f1c" stroke="#3a0404" stroke-width="0.7"/>
<circle cx="184.20" cy="301.20" r="2.05" fill="#a50f1c" stroke="#3a0404" stroke-width="0.7"/>
<circle cx="191.00" cy="284.00" r="2.05" fill="#a50f1c" stroke="#3a0404" stroke-width="0.7"/>
<circle cx="103.20" cy="310.60" r="2.05" fill="#a50f1c" stroke="#3a0404" stroke-width="0.7"/>
<circle cx="103.60" cy="317.20" r="2.05" fill="#a50f1c" stroke="#3a0404" stroke-width="0.7"/>
<circle cx="103.00" cy="332.60" r="2.05" fill="#a50f1c" stroke="#3a0404" stroke-width="0.7"/>
<circle cx="106.00" cy="330.00" r="2.05" fill="#a50f1c" stroke="#3a0404" stroke-width="0.7"/>
<circle cx="111.00" cy="327.60" r="2.05" fill="#a50f1c" stroke="#3a0404" stroke-width="0.7"/>
<circle cx="119.00" cy="332.00" r="2.05" fill="#a50f1c" stroke="#3a0404" stroke-width="0.7"/>
<circle cx="113.00" cy="319.60" r="2.05" fill="#a50f1c" stroke="#3a0404" stroke-width="0.7"/>
<circle cx="121.60" cy="317.40" r="2.05" fill="#a50f1c" stroke="#3a0404" stroke-width="0.7"/>
<circle cx="126.00" cy="311.60" r="2.05" fill="#a50f1c" stroke="#3a0404" stroke-width="0.7"/>
<circle cx="127.40" cy="313.60" r="2.05" fill="#a50f1c" stroke="#3a0404" stroke-width="0.7"/>
<circle cx="138.00" cy="307.60" r="2.05" fill="#a50f1c" stroke="#3a0404" stroke-width="0.7"/>
<circle cx="147.00" cy="307.00" r="2.05" fill="#a50f1c" stroke="#3a0404" stroke-width="0.7"/>
<circle cx="155.60" cy="311.80" r="2.05" fill="#a50f1c" stroke="#3a0404" stroke-width="0.7"/>
<circle cx="206.80" cy="311.80" r="2.05" fill="#5e0f6e" stroke="#43289a" stroke-width="0.7"/>
<circle cx="219.00" cy="321.60" r="2.05" fill="#5e0f6e" stroke="#43289a" stroke-width="0.7"/>
<circle cx="231.20" cy="298.40" r="2.05" fill="#5e0f6e" stroke="#43289a" stroke-width="0.7"/>
<circle cx="243.20" cy="302.00" r="2.05" fill="#5e0f6e" stroke="#43289a" stroke-width="0.7"/>
<circle cx="245.00" cy="283.20" r="2.05" fill="#5e0f6e" stroke="#43289a" stroke-width="0.7"/>
<circle cx="252.40" cy="254.20" r="2.05" fill="#5e0f6e" stroke="#43289a" stroke-width="0.7"/>
<circle cx="264.60" cy="246.00" r="2.05" fill="#5e0f6e" stroke="#43289a" stroke-width="0.7"/>
<text transform="translate(56.40,241.90) scale(0.958,1)" text-anchor="start" font-size="12" font-weight="normal" font-style="normal" fill="#1a1a1a" >y = 0.0788x + 15.264</text>
<text transform="translate(56.40,255.30) scale(0.958,1)" text-anchor="start" font-size="12" font-weight="normal" font-style="normal" fill="#1a1a1a" >R² = 0.5809, P &lt; 0.05</text>
<text transform="translate(214.00,353.70) scale(0.958,1)" text-anchor="start" font-size="12" font-weight="normal" font-style="normal" fill="#1a1a1a" >y = 0.2037x - 48.56</text>
<text transform="translate(210.00,366.70) scale(0.958,1)" text-anchor="start" font-size="12" font-weight="normal" font-style="normal" fill="#1a1a1a" >R² = 0.7767, P &lt; 0.05</text>
<line x1="201.80" y1="244.00" x2="256.00" y2="244.00" stroke="#555" stroke-width="1.4" />
<polygon points="261.5,244 255.5,241.2 255.5,246.8" fill="#111"/>
<text transform="translate(208.00,239.60) scale(0.958,1)" text-anchor="start" font-size="12" font-weight="normal" font-style="italic" fill="#1a1a1a" >After 2004</text>
<line x1="198.00" y1="362.50" x2="138.00" y2="362.50" stroke="#333" stroke-width="1.3" />
<polygon points="132.5,362.5 138.5,359.7 138.5,365.3" fill="#111"/>
<text transform="translate(140.00,377.60) scale(0.958,1)" text-anchor="start" font-size="12" font-weight="normal" font-style="italic" fill="#1a1a1a" >Before 2004</text>
<line x1="390.20" y1="226.80" x2="390.20" y2="400.90" stroke="#303030" stroke-width="1" />
<line x1="386.20" y1="397.40" x2="675.20" y2="397.40" stroke="#303030" stroke-width="1" />
<line x1="386.20" y1="397.40" x2="394.20" y2="397.40" stroke="#303030" stroke-width="1" />
<text transform="translate(379.20,402.20) scale(0.958,1)" text-anchor="end" font-size="12" font-weight="normal" font-style="normal" fill="#1a1a1a" >0</text>
<line x1="390.20" y1="392.53" x2="393.40" y2="392.53" stroke="#303030" stroke-width="1" />
<line x1="390.20" y1="387.65" x2="393.40" y2="387.65" stroke="#303030" stroke-width="1" />
<line x1="390.20" y1="382.78" x2="393.40" y2="382.78" stroke="#303030" stroke-width="1" />
<line x1="390.20" y1="377.90" x2="393.40" y2="377.90" stroke="#303030" stroke-width="1" />
<line x1="386.20" y1="373.03" x2="394.20" y2="373.03" stroke="#303030" stroke-width="1" />
<text transform="translate(379.20,377.83) scale(0.958,1)" text-anchor="end" font-size="12" font-weight="normal" font-style="normal" fill="#1a1a1a" >10</text>
<line x1="390.20" y1="368.15" x2="393.40" y2="368.15" stroke="#303030" stroke-width="1" />
<line x1="390.20" y1="363.28" x2="393.40" y2="363.28" stroke="#303030" stroke-width="1" />
<line x1="390.20" y1="358.41" x2="393.40" y2="358.41" stroke="#303030" stroke-width="1" />
<line x1="390.20" y1="353.53" x2="393.40" y2="353.53" stroke="#303030" stroke-width="1" />
<line x1="386.20" y1="348.66" x2="394.20" y2="348.66" stroke="#303030" stroke-width="1" />
<text transform="translate(379.20,353.46) scale(0.958,1)" text-anchor="end" font-size="12" font-weight="normal" font-style="normal" fill="#1a1a1a" >20</text>
<line x1="390.20" y1="343.78" x2="393.40" y2="343.78" stroke="#303030" stroke-width="1" />
<line x1="390.20" y1="338.91" x2="393.40" y2="338.91" stroke="#303030" stroke-width="1" />
<line x1="390.20" y1="334.03" x2="393.40" y2="334.03" stroke="#303030" stroke-width="1" />
<line x1="390.20" y1="329.16" x2="393.40" y2="329.16" stroke="#303030" stroke-width="1" />
<line x1="386.20" y1="324.29" x2="394.20" y2="324.29" stroke="#303030" stroke-width="1" />
<text transform="translate(379.20,329.09) scale(0.958,1)" text-anchor="end" font-size="12" font-weight="normal" font-style="normal" fill="#1a1a1a" >30</text>
<line x1="390.20" y1="319.41" x2="393.40" y2="319.41" stroke="#303030" stroke-width="1" />
<line x1="390.20" y1="314.54" x2="393.40" y2="314.54" stroke="#303030" stroke-width="1" />
<line x1="390.20" y1="309.66" x2="393.40" y2="309.66" stroke="#303030" stroke-width="1" />
<line x1="390.20" y1="304.79" x2="393.40" y2="304.79" stroke="#303030" stroke-width="1" />
<line x1="386.20" y1="299.91" x2="394.20" y2="299.91" stroke="#303030" stroke-width="1" />
<text transform="translate(379.20,304.71) scale(0.958,1)" text-anchor="end" font-size="12" font-weight="normal" font-style="normal" fill="#1a1a1a" >40</text>
<line x1="390.20" y1="295.04" x2="393.40" y2="295.04" stroke="#303030" stroke-width="1" />
<line x1="390.20" y1="290.17" x2="393.40" y2="290.17" stroke="#303030" stroke-width="1" />
<line x1="390.20" y1="285.29" x2="393.40" y2="285.29" stroke="#303030" stroke-width="1" />
<line x1="390.20" y1="280.42" x2="393.40" y2="280.42" stroke="#303030" stroke-width="1" />
<line x1="386.20" y1="275.54" x2="394.20" y2="275.54" stroke="#303030" stroke-width="1" />
<text transform="translate(379.20,280.34) scale(0.958,1)" text-anchor="end" font-size="12" font-weight="normal" font-style="normal" fill="#1a1a1a" >50</text>
<line x1="390.20" y1="270.67" x2="393.40" y2="270.67" stroke="#303030" stroke-width="1" />
<line x1="390.20" y1="265.79" x2="393.40" y2="265.79" stroke="#303030" stroke-width="1" />
<line x1="390.20" y1="260.92" x2="393.40" y2="260.92" stroke="#303030" stroke-width="1" />
<line x1="390.20" y1="256.05" x2="393.40" y2="256.05" stroke="#303030" stroke-width="1" />
<line x1="386.20" y1="251.17" x2="394.20" y2="251.17" stroke="#303030" stroke-width="1" />
<text transform="translate(379.20,255.97) scale(0.958,1)" text-anchor="end" font-size="12" font-weight="normal" font-style="normal" fill="#1a1a1a" >60</text>
<line x1="390.20" y1="246.30" x2="393.40" y2="246.30" stroke="#303030" stroke-width="1" />
<line x1="390.20" y1="241.42" x2="393.40" y2="241.42" stroke="#303030" stroke-width="1" />
<line x1="390.20" y1="236.55" x2="393.40" y2="236.55" stroke="#303030" stroke-width="1" />
<line x1="390.20" y1="231.67" x2="393.40" y2="231.67" stroke="#303030" stroke-width="1" />
<line x1="386.20" y1="226.80" x2="394.20" y2="226.80" stroke="#303030" stroke-width="1" />
<text transform="translate(379.20,231.60) scale(0.958,1)" text-anchor="end" font-size="12" font-weight="normal" font-style="normal" fill="#1a1a1a" >70</text>
<line x1="390.20" y1="394.40" x2="390.20" y2="400.90" stroke="#303030" stroke-width="1" />
<text transform="translate(389.60,415.20) scale(0.958,1)" text-anchor="middle" font-size="12" font-weight="normal" font-style="normal" fill="#1a1a1a" >0</text>
<line x1="413.95" y1="397.40" x2="413.95" y2="394.40" stroke="#303030" stroke-width="1" />
<line x1="437.70" y1="394.40" x2="437.70" y2="400.90" stroke="#303030" stroke-width="1" />
<text transform="translate(437.10,415.20) scale(0.958,1)" text-anchor="middle" font-size="12" font-weight="normal" font-style="normal" fill="#1a1a1a" >100</text>
<line x1="461.45" y1="397.40" x2="461.45" y2="394.40" stroke="#303030" stroke-width="1" />
<line x1="485.20" y1="394.40" x2="485.20" y2="400.90" stroke="#303030" stroke-width="1" />
<text transform="translate(484.60,415.20) scale(0.958,1)" text-anchor="middle" font-size="12" font-weight="normal" font-style="normal" fill="#1a1a1a" >200</text>
<line x1="508.95" y1="397.40" x2="508.95" y2="394.40" stroke="#303030" stroke-width="1" />
<line x1="532.70" y1="394.40" x2="532.70" y2="400.90" stroke="#303030" stroke-width="1" />
<text transform="translate(532.10,415.20) scale(0.958,1)" text-anchor="middle" font-size="12" font-weight="normal" font-style="normal" fill="#1a1a1a" >300</text>
<line x1="556.45" y1="397.40" x2="556.45" y2="394.40" stroke="#303030" stroke-width="1" />
<line x1="580.20" y1="394.40" x2="580.20" y2="400.90" stroke="#303030" stroke-width="1" />
<text transform="translate(579.60,415.20) scale(0.958,1)" text-anchor="middle" font-size="12" font-weight="normal" font-style="normal" fill="#1a1a1a" >400</text>
<line x1="603.95" y1="397.40" x2="603.95" y2="394.40" stroke="#303030" stroke-width="1" />
<line x1="627.70" y1="394.40" x2="627.70" y2="400.90" stroke="#303030" stroke-width="1" />
<text transform="translate(627.10,415.20) scale(0.958,1)" text-anchor="middle" font-size="12" font-weight="normal" font-style="normal" fill="#1a1a1a" >500</text>
<line x1="651.45" y1="397.40" x2="651.45" y2="394.40" stroke="#303030" stroke-width="1" />
<line x1="675.20" y1="394.40" x2="675.20" y2="400.90" stroke="#303030" stroke-width="1" />
<text transform="translate(674.60,415.20) scale(0.958,1)" text-anchor="middle" font-size="12" font-weight="normal" font-style="normal" fill="#1a1a1a" >600</text>
<text transform="translate(356.40,427.80) scale(1.0,1)" text-anchor="start" font-size="15.2" font-weight="bold" font-style="normal" fill="#111" >D</text>
<text transform="translate(477.00,433.20) scale(0.958,1)" text-anchor="start" font-size="12" font-weight="normal" font-style="normal" fill="#1a1a1a" >Vehicle amount (</text>
<path d="M558.2,425.6 L566.2,433.0 M566.2,425.6 L558.2,433.0" stroke="#1a1a1a" stroke-width="0.9" fill="none"/>
<text transform="translate(569.40,433.20) scale(0.958,1)" text-anchor="start" font-size="12" font-weight="normal" font-style="normal" fill="#1a1a1a" >10</text>
<text transform="translate(580.90,429.60) scale(1.0,1)" text-anchor="start" font-size="7.5" font-weight="normal" font-style="normal" fill="#1a1a1a" >4</text>
<text transform="translate(586.00,433.20) scale(0.958,1)" text-anchor="start" font-size="12" font-weight="normal" font-style="normal" fill="#1a1a1a" >)</text>
<text transform="translate(361.20,309.30) rotate(-90) scale(0.958,1)" text-anchor="middle" font-size="12" fill="#1a1a1a">PM<tspan font-size="8.5" dy="2.5">2.5</tspan><tspan dy="-2.5"> concentration (μg/m</tspan><tspan font-size="8" dy="-4">3</tspan><tspan dy="4">)</tspan></text>
<line x1="495.40" y1="231.80" x2="495.40" y2="381.00" stroke="#505050" stroke-width="1.15" stroke-dasharray="2.4,2.32"/>
<line x1="393.00" y1="325.90" x2="491.60" y2="305.60" stroke="#222" stroke-width="1" />
<line x1="499.40" y1="330.40" x2="649.60" y2="249.00" stroke="#222" stroke-width="1" />
<circle cx="395.40" cy="323.00" r="2.05" fill="#a50f1c" stroke="#3a0404" stroke-width="0.7"/>
<circle cx="394.00" cy="328.00" r="2.05" fill="#a50f1c" stroke="#3a0404" stroke-width="0.7"/>
<circle cx="400.00" cy="330.80" r="2.05" fill="#a50f1c" stroke="#3a0404" stroke-width="0.7"/>
<circle cx="409.00" cy="312.80" r="2.05" fill="#a50f1c" stroke="#3a0404" stroke-width="0.7"/>
<circle cx="428.80" cy="324.00" r="2.05" fill="#a50f1c" stroke="#3a0404" stroke-width="0.7"/>
<circle cx="465.80" cy="305.40" r="2.05" fill="#a50f1c" stroke="#3a0404" stroke-width="0.7"/>
<circle cx="471.60" cy="313.40" r="2.05" fill="#a50f1c" stroke="#3a0404" stroke-width="0.7"/>
<circle cx="481.00" cy="314.80" r="2.05" fill="#a50f1c" stroke="#3a0404" stroke-width="0.7"/>
<circle cx="491.80" cy="300.20" r="2.05" fill="#a50f1c" stroke="#3a0404" stroke-width="0.7"/>
<circle cx="500.00" cy="324.00" r="2.05" fill="#5e0f6e" stroke="#43289a" stroke-width="0.7"/>
<circle cx="513.60" cy="332.40" r="2.05" fill="#5e0f6e" stroke="#43289a" stroke-width="0.7"/>
<circle cx="527.60" cy="312.40" r="2.05" fill="#5e0f6e" stroke="#43289a" stroke-width="0.7"/>
<circle cx="539.60" cy="315.60" r="2.05" fill="#5e0f6e" stroke="#43289a" stroke-width="0.7"/>
<circle cx="557.60" cy="299.60" r="2.05" fill="#5e0f6e" stroke="#43289a" stroke-width="0.7"/>
<circle cx="582.00" cy="274.60" r="2.05" fill="#5e0f6e" stroke="#43289a" stroke-width="0.7"/>
<circle cx="619.40" cy="267.40" r="2.05" fill="#5e0f6e" stroke="#43289a" stroke-width="0.7"/>
<circle cx="627.80" cy="271.00" r="2.05" fill="#5e0f6e" stroke="#43289a" stroke-width="0.7"/>
<circle cx="638.20" cy="265.00" r="2.05" fill="#5e0f6e" stroke="#43289a" stroke-width="0.7"/>
<circle cx="649.60" cy="235.60" r="2.05" fill="#5e0f6e" stroke="#43289a" stroke-width="0.7"/>
<text transform="translate(401.00,271.30) scale(0.958,1)" text-anchor="start" font-size="12" font-weight="normal" font-style="normal" fill="#1a1a1a" textLength="97.6" lengthAdjust="spacing">y = 0.0409x + 28.943</text>
<text transform="translate(401.00,283.70) scale(0.958,1)" text-anchor="start" font-size="12" font-weight="normal" font-style="normal" fill="#1a1a1a" textLength="98.1" lengthAdjust="spacing">R² = 0.6461, P &lt; 0.05</text>
<text transform="translate(543.00,347.90) scale(0.958,1)" text-anchor="start" font-size="12" font-weight="normal" font-style="normal" fill="#1a1a1a" >y = 0.1065x + 2.819</text>
<text transform="translate(540.00,361.30) scale(0.958,1)" text-anchor="start" font-size="12" font-weight="normal" font-style="normal" fill="#1a1a1a" >R² = 0.9218, P &lt; 0.05</text>
<line x1="496.50" y1="253.50" x2="551.00" y2="253.50" stroke="#222" stroke-width="1.1" />
<polygon points="556.5,253.5 550.5,250.7 550.5,256.3" fill="#111"/>
<text transform="translate(499.00,245.60) scale(0.958,1)" text-anchor="start" font-size="12" font-weight="normal" font-style="italic" fill="#1a1a1a" >After 2004</text>
<line x1="495.60" y1="360.40" x2="437.00" y2="360.40" stroke="#222" stroke-width="1.1" />
<polygon points="431,360.4 437,357.6 437,363.2" fill="#111"/>
<text transform="translate(434.00,353.60) scale(0.958,1)" text-anchor="start" font-size="12" font-weight="normal" font-style="italic" fill="#1a1a1a" >Before 2004</text>
</svg></body></html>
